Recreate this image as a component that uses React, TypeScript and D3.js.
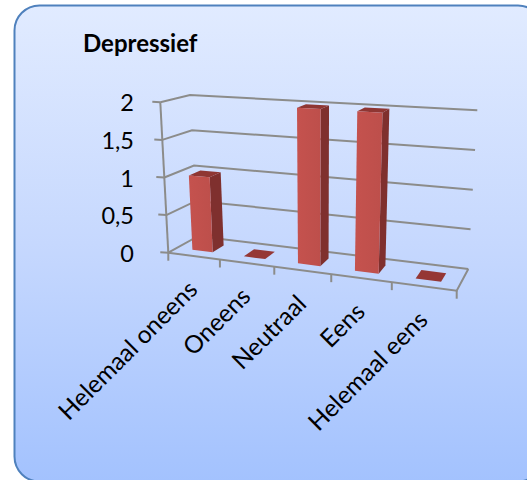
import * as d3 from "d3";

const categories = ["Helemaal oneens", "Oneens", "Neutraal", "Eens", "Helemaal eens"];
const values = [1, 0, 2, 2, 0];
const yTicks = [0, 0.5, 1, 1.5, 2];
const yTickLabels = ["0", "0,5", "1", "1,5", "2"];

const WIDTH = 527;
const HEIGHT = 480;
const FONT = "Lato, 'Open Sans', sans-serif";
const GREY = "#8c8c8a";

// Excel style 3D box. f = front, b = back, 0 = floor, 1 = top, l/r = left/right
const box = {
  fl0: [168.3, 252.7],
  fr0: [456.7, 290.7],
  bl0: [198, 236.2],
  br0: [468.3, 269],
  fl1: [160.3, 102.3],
  fr1: [465, 121],
  bl1: [190, 95],
  br1: [477.3, 110.3],
};

// categories get wider to the right because of the perspective
const catScale = d3.scaleLinear().domain([0, 1, 2, 3, 4, 5]).range([0, 0.179, 0.3675, 0.565, 0.775, 1]);
const valueScale = d3.scaleLinear().domain([0, 2]).range([0, 1]);

type Pt = [number, number];

function project(cat: number, value: number, depth: number): Pt {
  const u = catScale(cat);
  const v = valueScale(value);
  const mix = (a: number[], b: number[], t: number) => [a[0] + (b[0] - a[0]) * t, a[1] + (b[1] - a[1]) * t];
  const front = mix(mix(box.fl0, box.fr0, u), mix(box.fl1, box.fr1, u), v);
  const back = mix(mix(box.bl0, box.br0, u), mix(box.bl1, box.br1, u), v);
  return mix(front, back, depth) as Pt;
}

const line = d3.line<Pt>();
const closed = (pts: Pt[]) => line(pts) + "Z";

function Bar({ index, value }: { index: number; value: number }) {
  // gap width 150%: bar takes the middle 40% in both directions
  const c0 = index + 0.3;
  const c1 = index + 0.7;
  const d0 = 0.3;
  const d1 = 0.7;
  const top = closed([project(c0, value, d0), project(c1, value, d0), project(c1, value, d1), project(c0, value, d1)]);
  if (value === 0) return <path d={top} fill="#953735" />;
  const front = closed([project(c0, 0, d0), project(c1, 0, d0), project(c1, value, d0), project(c0, value, d0)]);
  const side = closed([project(c1, 0, d0), project(c1, 0, d1), project(c1, value, d1), project(c1, value, d0)]);
  return (
    <g>
      <path d={side} fill="#7f302e" />
      <path d={top} fill="#8f3633" />
      <path d={front} fill="url(#barFront)" />
    </g>
  );
}

export default function App() {
  const n = categories.length;
  return (
    <svg width={WIDTH} height={HEIGHT} style={{ position: "absolute", left: 0, top: 0 }}>
      <defs>
        <linearGradient id="cardFill" x1="0" y1="0" x2="0" y2="1">
          <stop offset="0" stopColor="#e1ebff" />
          <stop offset="0.5" stopColor="#c6d8fe" />
          <stop offset="1" stopColor="#a3c2fe" />
        </linearGradient>
        <linearGradient id="barFront" x1="0" y1="0" x2="1" y2="0">
          <stop offset="0" stopColor="#c5524e" />
          <stop offset="1" stopColor="#bd4f4b" />
        </linearGradient>
      </defs>

      <rect x={14.5} y={5.5} width={528.5} height={476} rx={25} ry={25} fill="url(#cardFill)" stroke="#4f81bd" strokeWidth={2} />

      <text x={83} y={52} fontFamily={FONT} fontSize={24} fontWeight={700} fill="#000">
        Depressief
      </text>

      {/* back wall and left wall gridlines */}
      <g fill="none" stroke={GREY} strokeWidth={2}>
        {yTicks.map((t) => (
          <path key={t} d={line([project(0, t, 0), project(0, t, 1), project(n, t, 1)]) ?? ""} />
        ))}
        {/* floor */}
        <path d={line([project(n, 0, 1), project(n, 0, 0), project(0, 0, 0)]) ?? ""} />
        {/* value axis */}
        <path d={line([project(0, 2, 0), project(0, 0, 0)]) ?? ""} />
        {yTicks.map((t) => {
          const [x, y] = project(0, t, 0);
          return <path key={t} d={`M${x - 8},${y - 0.5}L${x},${y}`} />;
        })}
        {d3.range(n + 1).map((i) => {
          const [x, y] = project(i, 0, 0);
          return <path key={i} d={`M${x},${y}L${x},${y + 8}`} />;
        })}
      </g>

      {values.map((v, i) => (
        <Bar key={categories[i]} index={i} value={v} />
      ))}

      {yTicks.map((t, i) => (
        <text key={t} x={134} y={project(0, t, 0)[1] + 9} textAnchor="end" fontFamily={FONT} fontSize={23.5} fill="#000">
          {yTickLabels[i]}
        </text>
      ))}

      {categories.map((c, i) => {
        const [x, y] = project(i + 0.5, 0, 0);
        return (
          <text
            key={c}
            transform={`translate(${x + 5},${y + 35}) rotate(-45)`}
            textAnchor="end"
            fontFamily={FONT}
            fontSize={24.5}
            fill="#000"
          >
            {c}
          </text>
        );
      })}
    </svg>
  );
}
